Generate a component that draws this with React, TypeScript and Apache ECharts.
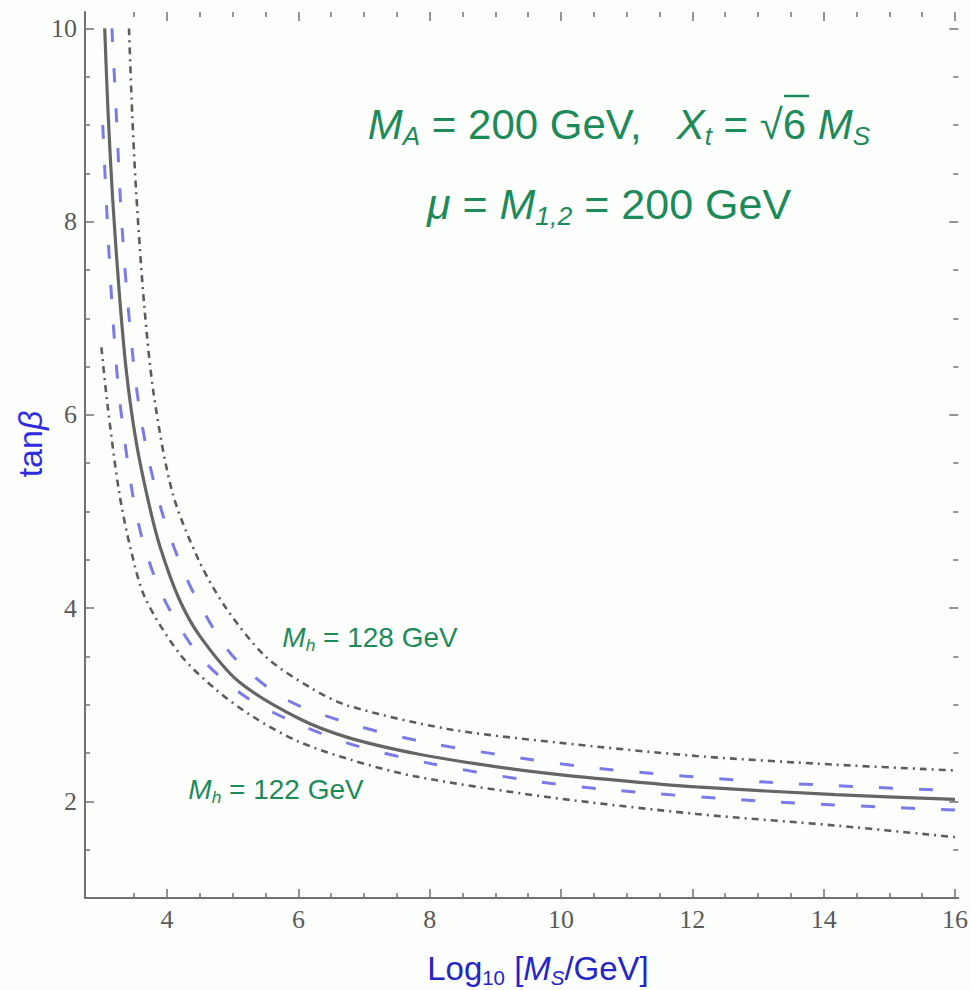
import React, { useEffect, useRef } from 'react';
import * as echarts from 'echarts';

// ---- data (x = log10(MS/GeV), y = tanβ) ----
const centralCurve: [number, number][] = [
  [3.05, 10.0], [3.1, 9.15], [3.17, 8.25], [3.27, 7.28], [3.38, 6.45], [3.53, 5.72],
  [3.73, 5.06], [3.9, 4.62], [4.18, 4.1], [4.5, 3.71], [5.09, 3.24], [6.0, 2.86],
  [6.76, 2.66], [7.82, 2.49], [9.0, 2.36], [9.94, 2.28], [11.0, 2.21], [12.06, 2.15],
  [14.18, 2.07], [16.0, 2.02],
];
const upperBand: [number, number][] = [
  [3.16, 10.0], [3.22, 9.2], [3.3, 8.1], [3.39, 7.25], [3.53, 6.3], [3.7, 5.6], [3.92, 5.0],
  [4.15, 4.55], [4.41, 4.15], [4.98, 3.52], [5.8, 3.06], [6.91, 2.78], [8.03, 2.6],
  [9.38, 2.45], [10.58, 2.34], [13.12, 2.2], [16.0, 2.11],
];
const lowerBand: [number, number][] = [
  [3.02, 9.0], [3.09, 8.0], [3.17, 7.05], [3.27, 6.2], [3.47, 5.2], [3.65, 4.65],
  [3.95, 4.1], [4.5, 3.5], [5.2, 3.08], [6.0, 2.8], [6.86, 2.58], [8.03, 2.39], [9.38, 2.23],
  [10.58, 2.13], [13.12, 2.0], [16.0, 1.91],
];
const mh128Curve: [number, number][] = [
  [3.42, 10.0], [3.47, 9.1], [3.53, 8.3], [3.65, 7.15], [3.8, 6.2], [4.08, 5.2],
  [4.48, 4.5], [4.9, 4.0], [5.5, 3.5], [6.2, 3.17], [6.76, 2.99], [8.27, 2.75], [9.94, 2.61],
  [12.06, 2.47], [14.18, 2.38], [16.0, 2.32],
];
const mh122Curve: [number, number][] = [
  [3.0, 6.7], [3.09, 6.12], [3.27, 5.2], [3.45, 4.6], [3.67, 4.1], [4.2, 3.52],
  [4.74, 3.16], [5.3, 2.88], [6.0, 2.62], [6.8, 2.43], [7.77, 2.26], [9.74, 2.05],
  [12.06, 1.87], [14.18, 1.75], [16.0, 1.63],
];

const xRange = [2.75, 16.05];
const yRange = [1.0, 10.17];
const xMajorTicks = [4, 6, 8, 10, 12, 14, 16];
const xMinorTicks = [3.5, 4.5, 5, 5.5, 6.5, 7, 7.5, 8.5, 9, 9.5, 10.5, 11, 11.5, 12.5, 13, 13.5, 14.5, 15, 15.5];
const yMajorTicks = [2, 4, 6, 8, 10];
const yMinorTicks = [1.5, 2.5, 3, 3.5, 4.5, 5, 5.5, 6.5, 7, 7.5, 8.5, 9, 9.5];

const SANS = 'Liberation Sans, Arial, sans-serif';
const SERIF = 'Liberation Serif, Times New Roman, serif';
const GREEN = '#1d8a5a';
const BLUE = '#2525c8';
const AXIS = '#707070';

function richSet(size: number, color: string) {
  return {
    n: { fontSize: size, fontFamily: SANS, fill: color, color, lineHeight: size * 1.2 },
    i: { fontSize: size, fontFamily: SANS, fontStyle: 'italic', fill: color, color, lineHeight: size * 1.2 },
    si: {
      fontSize: size * 0.62, fontFamily: SANS, fontStyle: 'italic', fill: color, color,
      lineHeight: size * 0.62, verticalAlign: 'bottom',
    },
    s: {
      fontSize: size * 0.62, fontFamily: SANS, fill: color, color,
      lineHeight: size * 0.62, verticalAlign: 'bottom',
    },
  };
}

function makeXAxis(pos: 'bottom' | 'top', major: boolean, withLine: boolean, labels: boolean) {
  return {
    type: 'value',
    position: pos,
    min: xRange[0],
    max: xRange[1],
    axisLine: { show: withLine, onZero: false, lineStyle: { color: AXIS, width: 2 } },
    axisTick: {
      show: true, inside: true, length: major ? 9 : 5,
      customValues: major ? xMajorTicks : xMinorTicks,
      lineStyle: { color: AXIS, width: 1.5 },
    },
    axisLabel: {
      show: labels, customValues: xMajorTicks, margin: 8,
      fontFamily: SERIF, fontSize: 26, color: '#5a5a5a',
    },
    splitLine: { show: false },
  };
}

function makeYAxis(pos: 'left' | 'right', major: boolean, withLine: boolean, labels: boolean) {
  return {
    type: 'value',
    position: pos,
    min: yRange[0],
    max: yRange[1],
    axisLine: { show: withLine, onZero: false, lineStyle: { color: AXIS, width: 2 } },
    axisTick: {
      show: true, inside: true, length: major ? 9 : 5,
      customValues: major ? yMajorTicks : yMinorTicks,
      lineStyle: { color: AXIS, width: 1.5 },
    },
    axisLabel: {
      show: labels, customValues: yMajorTicks, margin: 8,
      fontFamily: SERIF, fontSize: 26, color: '#5a5a5a',
    },
    splitLine: { show: false },
  };
}

export default function App() {
  const ref = useRef<HTMLDivElement>(null);
  useEffect(() => {
    if (!ref.current) return;
    const chart = echarts.init(ref.current, undefined, { renderer: 'svg' });
    const lineSeries = (name: string, data: [number, number][], color: string, type: any, width: number) => ({
      name,
      type: 'line',
      data,
      xAxisIndex: 0,
      yAxisIndex: 0,
      showSymbol: false,
      smooth: 0.3,
      lineStyle: { color, width, type },
      z: 3,
    });
    chart.setOption({
      animation: false,
      backgroundColor: '#fdfffd',
      grid: { left: 85, top: 12, right: 5, bottom: 92, containLabel: false },
      xAxis: [
        makeXAxis('bottom', true, true, true),
        makeXAxis('bottom', false, false, false),
        makeXAxis('top', true, false, false),
        makeXAxis('top', false, false, false),
      ],
      yAxis: [
        makeYAxis('left', true, true, true),
        makeYAxis('left', false, false, false),
        makeYAxis('right', true, false, false),
        makeYAxis('right', false, false, false),
      ],
      series: [
        lineSeries('Mh = 128 GeV', mh128Curve, '#5c5c5c', [7, 5, 2, 5], 2.6),
        lineSeries('Mh = 122 GeV', mh122Curve, '#5c5c5c', [7, 5, 2, 5], 2.6),
        lineSeries('upper', upperBand, '#7a7ae8', [14, 26], 3),
        lineSeries('lower', lowerBand, '#7a7ae8', [14, 26], 3),
        lineSeries('Mh = 125 GeV', centralCurve, '#656565', 'solid', 3.2),
      ],
      graphic: [
        {
          type: 'text', x: 619, y: 124, z: 10,
          style: {
            text: '{i|M}{si|A}{n| = 200 GeV,   }{i|X}{si|t}{n| = √6 }{i|M}{si|S}',
            rich: richSet(42, GREEN), align: 'center', verticalAlign: 'middle',
          },
        },
        {
          type: 'line', z: 10,
          shape: { x1: 784, y1: 96, x2: 809, y2: 96 },
          style: { stroke: GREEN, lineWidth: 2.5 },
        },
        {
          type: 'text', x: 609, y: 204, z: 10,
          style: {
            text: '{i|μ}{n| = }{i|M}{si|1,2}{n| = 200 GeV}',
            rich: richSet(43, GREEN), align: 'center', verticalAlign: 'middle',
          },
        },
        {
          type: 'text', x: 370, y: 637, z: 10,
          style: {
            text: '{i|M}{si|h}{n| = 128 GeV}',
            rich: richSet(28, GREEN), align: 'center', verticalAlign: 'middle',
          },
        },
        {
          type: 'text', x: 276, y: 789, z: 10,
          style: {
            text: '{i|M}{si|h}{n| = 122 GeV}',
            rich: richSet(28, GREEN), align: 'center', verticalAlign: 'middle',
          },
        },
        {
          type: 'text', x: 538, y: 968, z: 10,
          style: {
            text: '{n|Log}{s|10}{n| [}{i|M}{si|S}{n|/GeV]}',
            rich: richSet(33, BLUE), align: 'center', verticalAlign: 'middle',
          },
        },
        {
          type: 'text', x: 30, y: 444, rotation: Math.PI / 2, z: 10,
          style: {
            text: '{n|tan}{i|β}',
            rich: richSet(34, '#2e2ee0'), align: 'center', verticalAlign: 'middle',
          },
        },
      ],
    });
    return () => chart.dispose();
  }, []);
  return (
    <div
      ref={ref}
      style={{ position: 'absolute', left: 0, top: 0, width: 971, height: 990 }}
    />
  );
}
